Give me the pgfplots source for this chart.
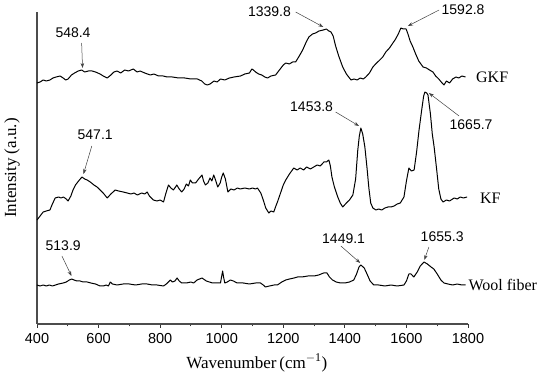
\documentclass[border=0pt]{standalone}
\usepackage{fontspec}
\setmainfont{Liberation Serif}
\newfontfamily\arial{Liberation Sans}
\usepackage{pgfplots}
\pgfplotsset{compat=1.18}
\usetikzlibrary{arrows.meta}
\begin{document}
\begin{tikzpicture}
\begin{axis}[
  scale only axis, width=431pt, height=312pt,
  xmin=400, xmax=1800, ymin=0, ymax=312,
  axis x line=bottom, axis y line=left,
  axis line style={-, line width=1.3pt, color=black!70},
  xtick={400,600,...,1800}, minor x tick num=1,
  ytick=\empty,
  tick align=outside,
  major tick length=4pt, minor tick length=2.5pt,
  tick style={line width=0.9pt, color=black!80},
  /pgf/number format/assume math mode=true,
  /pgf/number format/set thousands separator={},
  tick label style={font=\arial\fontsize{14.5}{16}\selectfont},
  xticklabel style={yshift=-2pt},
  xlabel={Wavenumber\,(cm$^{\mathrm{-1}}$)},
  ylabel={Intensity (a.u.)},
  label style={font=\fontsize{17}{20}\selectfont},
  xlabel style={at={(axis description cs:0.51,-0.125)}, anchor=center},
  ylabel style={at={(axis description cs:-0.058,0.5)}, anchor=center},
  clip=false,
]
% Wool fiber
\addplot[black, no markers, line width=1.0pt, line join=round] coordinates {(400,39)(410,38)(420,39)(430,38)(440,39)(450,38)(460,39)(470,40)(485,41)(495,42)(505,44)(513,45)(520,44)(530,43)(540,43)(550,42)(563,42)(575,41)(590,40)(605,38)(615,38)(625,39)(632,38)(638,42)(645,40)(660,39)(680,40)(700,40)(720,39)(740,40)(758,40)(775,39)(790,39)(811,38)(820,40)(833,44)(840,42)(848,43)(855,46)(862,43)(870,41)(885,41)(900,42)(909,41)(920,44)(936,46)(950,43)(960,42)(970,41)(985,41)(996,41)(1000,48)(1003,53)(1006,47)(1010,41)(1018,42)(1028,44)(1038,43)(1050,41)(1070,41)(1090,40)(1110,41)(1126,41)(1135,39)(1142,37)(1155,38)(1170,39)(1181,39)(1195,42)(1208,44)(1220,45)(1235,46)(1246,47)(1260,47)(1280,48)(1300,48)(1315,49)(1331,51)(1342,51)(1350,47)(1360,44)(1372,42)(1386,41)(1400,41)(1415,42)(1429,44)(1438,50)(1446,57)(1452,59)(1463,56)(1472,50)(1482,43)(1494,39)(1510,39)(1530,38)(1550,39)(1570,38)(1592,39)(1600,43)(1608,50)(1615,50)(1624,47)(1635,52)(1645,58)(1657,62)(1668,60)(1680,57)(1689,55)(1700,50)(1712,44)(1722,41)(1735,40)(1750,39)(1765,40)(1780,39)(1792,39)};
% KF
\addplot[black, no markers, line width=1.0pt, line join=round] coordinates {(400,104)(410,108)(420,112)(430,113)(442,114)(450,120)(459,126)(470,127)(478,126)(486,127)(495,125)(501,123)(510,128)(517,134)(525,139)(535,143)(546,147)(555,145)(563,144)(573,142)(585,139)(595,137)(605,134)(615,131)(628,126)(640,130)(654,134)(665,133)(680,132)(693,131)(705,130)(715,131)(726,129)(740,131)(750,130)(758,132)(765,128)(778,124)(790,123)(800,124)(811,122)(818,130)(827,139)(835,136)(843,134)(850,137)(854,139)(862,135)(870,132)(878,135)(885,140)(892,138)(898,144)(905,141)(915,141)(925,145)(936,149)(941,143)(947,139)(955,141)(962,146)(968,143)(974,149)(980,144)(987,137)(995,141)(1000,147)(1005,151)(1012,145)(1020,132)(1030,135)(1040,134)(1051,136)(1060,135)(1075,136)(1090,135)(1100,136)(1110,135)(1116,136)(1127,131)(1135,124)(1143,116)(1153,111)(1160,113)(1169,112)(1176,118)(1181,122)(1190,130)(1200,139)(1208,144)(1220,150)(1234,156)(1245,154)(1255,156)(1266,154)(1276,157)(1288,155)(1299,157)(1310,159)(1320,158)(1332,162)(1340,162)(1348,164)(1353,158)(1358,147)(1366,137)(1377,127)(1385,121)(1393,117)(1405,121)(1415,124)(1426,129)(1435,145)(1442,174)(1447,188)(1452,196)(1458,190)(1465,177)(1472,156)(1478,136)(1484,121)(1491,116)(1501,114)(1510,115)(1520,114)(1530,116)(1540,117)(1550,117)(1560,118)(1570,120)(1580,121)(1592,127)(1600,143)(1608,156)(1616,153)(1625,154)(1633,172)(1641,194)(1650,215)(1656,228)(1660,232)(1666,231)(1670,229)(1678,210)(1684,190)(1690,177)(1698,155)(1705,135)(1712,125)(1719,122)(1730,124)(1740,123)(1755,126)(1765,125)(1775,127)(1785,126)(1797,127)};
% GKF
\addplot[black, no markers, line width=1.0pt, line join=round] coordinates {(400,241)(410,242)(420,244)(430,243)(442,244)(452,246)(462,247)(475,248)(485,246)(493,244)(501,245)(512,249)(522,251)(534,253)(545,254)(555,252)(567,253)(579,253)(590,252)(605,250)(615,248)(628,246)(640,249)(650,252)(660,253)(672,251)(685,254)(697,253)(713,255)(725,252)(735,253)(750,251)(768,249)(780,250)(795,248)(810,248)(823,247)(840,247)(860,246)(880,246)(900,245)(921,245)(935,243)(945,240)(953,239)(962,240)(975,243)(985,242)(996,245)(1010,244)(1025,246)(1040,247)(1061,248)(1075,250)(1090,251)(1098,255)(1103,254)(1110,252)(1120,250)(1130,249)(1140,247)(1149,246)(1160,248)(1175,249)(1190,255)(1200,259)(1208,261)(1220,260)(1230,262)(1240,262)(1250,267)(1263,274)(1273,281)(1283,287)(1295,290)(1305,291)(1316,293)(1330,294)(1340,295)(1348,293)(1355,292)(1362,288)(1370,278)(1380,268)(1393,257)(1405,250)(1420,244)(1430,245)(1440,244)(1450,246)(1460,245)(1468,247)(1480,251)(1491,257)(1500,260)(1510,263)(1523,267)(1533,272)(1545,276)(1556,281)(1565,285)(1575,291)(1582,296)(1590,295)(1599,295)(1605,290)(1612,283)(1621,277)(1630,270)(1640,263)(1654,257)(1665,256)(1675,254)(1686,252)(1695,248)(1705,245)(1713,242)(1722,239)(1730,243)(1740,241)(1750,245)(1761,247)(1770,246)(1780,248)(1792,247)};
% curve labels
\node[anchor=west, font=\fontsize{16}{18}\selectfont] at (axis cs:1815,247) {GKF};
\node[anchor=west, font=\fontsize{16}{18}\selectfont] at (axis cs:1828,126) {KF};
\node[anchor=west, font=\fontsize{16}{18}\selectfont, inner sep=1pt] at (axis cs:1798,39) {Wool fiber};
% peak labels
\begin{scope}[every node/.style={font=\arial\fontsize{14}{16}\selectfont, inner sep=0pt}]
\node at (axis cs:517,291) {548.4};
\node at (axis cs:589,189) {547.1};
\node at (axis cs:1155,312) {1339.8};
\node at (axis cs:1784,314) {1592.8};
\node at (axis cs:1292,217) {1453.8};
\node at (axis cs:1810,199) {1665.7};
\node at (axis cs:485,78) {513.9};
\node at (axis cs:1396,85) {1449.1};
\node at (axis cs:1716,87) {1655.3};
\end{scope}
\begin{scope}[black!75, line width=0.5pt, -{Stealth[length=5pt,width=3.5pt]}]
\draw (axis cs:545,281) -- (axis cs:548,256);
\draw (axis cs:578,178) -- (axis cs:551,150);
\draw (axis cs:1240,312) -- (axis cs:1330,297);
\draw (axis cs:1706,314) -- (axis cs:1605,298);
\draw (axis cs:1370,212) -- (axis cs:1446,198);
\draw (axis cs:1771,208) -- (axis cs:1673,231);
\draw (axis cs:481,68) -- (axis cs:512,48);
\draw (axis cs:1387,78) -- (axis cs:1450,61);
\draw (axis cs:1673,77) -- (axis cs:1658,64);
\end{scope}
\end{axis}
\pgfresetboundingbox
\path[use as bounding box] (-37pt,-51pt) rectangle (513pt,324pt);
\end{tikzpicture}
\end{document}
